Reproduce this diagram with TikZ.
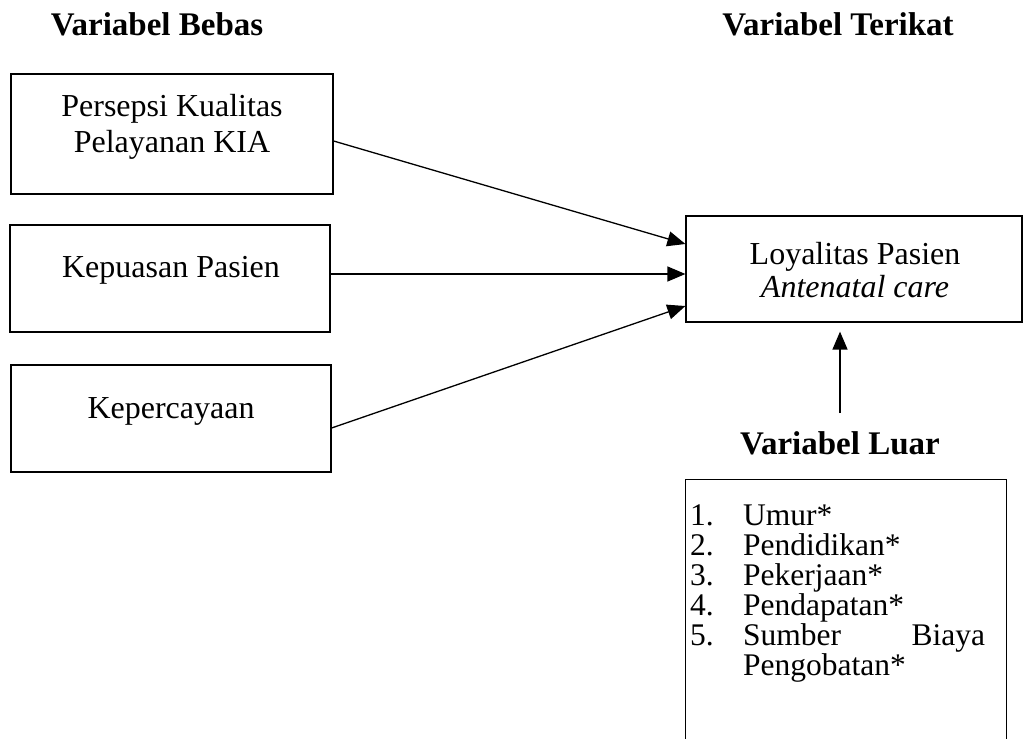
\documentclass[tikz,border=0pt]{standalone}
\usepackage{fontspec}
\setmainfont{Liberation Serif}
\usetikzlibrary{arrows.meta}
\tikzset{
  box/.style={draw, line width=1.2pt, inner sep=0pt, rectangle},
  txt/.style={inner sep=0pt, anchor=base, font=\fontsize{32}{36}\selectfont},
  head/.style={inner sep=0pt, anchor=base, font=\fontsize{33}{36}\selectfont\bfseries},
  arr/.style={line width=1.3pt, -{Triangle[length=18pt,width=15pt]}}
}
\begin{document}
\begin{tikzpicture}[x=1pt,y=-1pt]
\useasboundingbox (0,0) rectangle (1024,738);
\clip (0,0) rectangle (1024,738);
% headers
\node[head] (hb) at (157,36) {Variabel Bebas};
\node[head] (ht) at (838,36) {Variabel Terikat};
\node[head] (hl) at (840,454) {Variabel Luar};
% boxes
\node[box, minimum width=322pt, minimum height=120pt] (b1) at (172,134) {};
\node[box, minimum width=320pt, minimum height=107pt] (b2) at (170,278.5) {};
\node[box, minimum width=320pt, minimum height=107pt] (b3) at (171,418.5) {};
\node[box, minimum width=336pt, minimum height=106pt] (L) at (854,269) {};
\node[box, anchor=north west, minimum width=321pt, minimum height=300pt] (luar) at (685,479) {};
% texts
\node[txt] (t1) at (172,117) {\begin{tabular}[t]{@{}c@{}}Persepsi Kualitas\\Pelayanan KIA\end{tabular}};
\node[txt] (t2) at (171,277) {Kepuasan Pasien};
\node[txt] (t3) at (171,418) {Kepercayaan};
\node[txt, font=\fontsize{32}{33}\selectfont] (tL) at (855,264) {\begin{tabular}[t]{@{}c@{}}Loyalitas Pasien\\\textit{Antenatal care}\end{tabular}};
\node[inner sep=0pt, anchor=base west] (list) at (690,525) {\parbox[t]{316pt}{\fontsize{31.5}{30}\selectfont
\makebox[53pt][l]{1.}Umur*\\
\makebox[53pt][l]{2.}Pendidikan*\\
\makebox[53pt][l]{3.}Pekerjaan*\\
\makebox[53pt][l]{4.}Pendapatan*\\
\makebox[53pt][l]{5.}\makebox[242pt][s]{Sumber\hfill Biaya}\\
\hspace*{53pt}Pengobatan*}};
% connectors
\draw[arr] ([yshift=-7pt]b1.east) -- ([yshift=25pt]L.west);
\draw[arr] ([yshift=4.5pt]b2.east) -- ([yshift=-5pt]L.west);
\draw[arr] ([yshift=-9.5pt]b3.east) -- ([yshift=-37pt]L.west);
\coordinate (vs) at (840,413);
\draw[arr, shorten >=9pt] (vs) -- (vs |- L.south);
\end{tikzpicture}
\end{document}
